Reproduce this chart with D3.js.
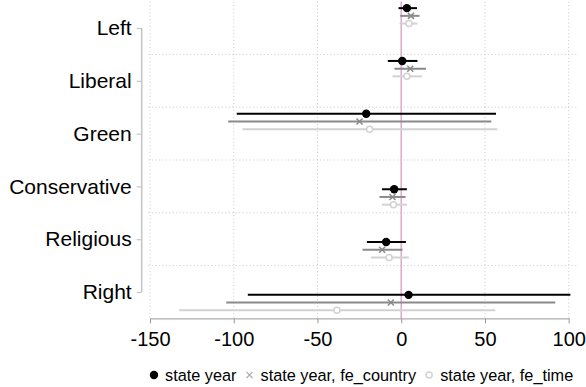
<!DOCTYPE html>
<html>
<head>
<meta charset="utf-8">
<script src="https://cdn.jsdelivr.net/npm/d3@7"></script>
<style>
  body { margin: 0; background: #fff; }
  svg { display: block; font-family: "Liberation Sans", Arial, Helvetica, sans-serif; }
</style>
</head>
<body>
<div id="chart"></div>
<script>
// categories on the y axis (top to bottom)
const categories = ["Left", "Liberal", "Green", "Conservative", "Religious", "Right"];
// where each coefficient group sits on the category axis
const coefAt = [0.77, 1.77, 2.77, 4.2, 5.2, 6.2];
const seriesNames = ["state year", "state year, fe_country", "state year, fe_time"];

// point estimates and confidence bounds, one array per model
const estYear = [3.4, 0.6, -20.9, -4.2, -9.0, 4.4];
const loYear = [-1.6, -8.0, -98.2, -11.5, -20.5, -91.6];
const hiYear = [9.4, 9.7, 56.6, 3.4, 2.8, 101];

const estCountry = [5.8, 5.4, -24.9, -5.2, -11.4, -6.2];
const loCountry = [-0.6, -4.0, -103.3, -13.0, -23.1, -104.5];
const hiCountry = [10.9, 14.8, 53.8, 2.6, 0.8, 92.0];

const estTime = [4.6, 3.4, -18.9, -4.6, -7.2, -38.4];
const loTime = [-1.0, -5.2, -94.8, -11.5, -18.1, -132.6];
const hiTime = [9.7, 12.4, 57.5, 3.4, 4.6, 56.2];

const xTicks = [-150, -100, -50, 0, 50, 100];

const width = 586, height = 387;
const colors = ["#000000", "#8a8a8a", "#d2d2d2"];
const offsets = [-0.146, 0, 0.146];

const svg = d3.select("#chart").append("svg")
    .attr("width", width)
    .attr("height", height);

const x = d3.scaleLinear().domain([-150, 100]).range([150, 568.7]);
const y = d3.scaleLinear().domain([0.5, 6.5]).range([1.6, 318.4]);

const models = [
  {name: seriesNames[0], est: estYear, lo: loYear, hi: hiYear},
  {name: seriesNames[1], est: estCountry, lo: loCountry, hi: hiCountry},
  {name: seriesNames[2], est: estTime, lo: loTime, hi: hiTime}
];

// grid
const grid = svg.append("g").attr("stroke", "#c8c8c8").attr("stroke-dasharray", "1,2.5").attr("stroke-width", 1);
grid.selectAll("line.v")
  .data(xTicks.filter(d => d !== 0))
  .join("line")
    .attr("x1", d => x(d)).attr("x2", d => x(d))
    .attr("y1", y(0.5)).attr("y2", y(6.5));
grid.selectAll("line.h")
  .data(d3.range(1.5, 6, 1))
  .join("line")
    .attr("x1", x(-151)).attr("x2", x(105))
    .attr("y1", d => y(d)).attr("y2", d => y(d));

// zero reference line
svg.append("line")
    .attr("x1", x(0)).attr("x2", x(0))
    .attr("y1", y(0.5)).attr("y2", y(6.5))
    .attr("stroke", "#e2a9c9")
    .attr("stroke-width", 1.5);

// x axis
const xAxis = svg.append("g")
    .attr("transform", `translate(0,${y(6.5)})`)
    .call(d3.axisBottom(x).tickValues(xTicks).tickFormat(d => String(d)).tickSize(5).tickPadding(8).tickSizeOuter(0));
xAxis.select(".domain").attr("stroke", "#999");
xAxis.selectAll(".tick line").attr("stroke", "#999");
xAxis.selectAll(".tick text")
    .attr("font-size", 20)
    .attr("font-family", "'Liberation Sans', Arial, sans-serif")
    .attr("fill", "#000");

// y axis with category labels
const yAxis = svg.append("g")
    .attr("transform", `translate(141.7,0)`)
    .call(d3.axisLeft(y).tickValues(d3.range(1, 7)).tickFormat(d => categories[d - 1]).tickSize(5).tickPadding(5).tickSizeOuter(0));
yAxis.select(".domain").attr("d", `M0,${y(1)}V${y(6)}`).attr("stroke", "#c4c4c4").attr("stroke-width", 1.5);
yAxis.selectAll(".tick line").attr("stroke", "#c4c4c4").attr("stroke-width", 1.2);
yAxis.selectAll(".tick text")
    .attr("font-size", 21)
    .attr("font-family", "'Liberation Sans', Arial, sans-serif")
    .attr("fill", "#000");

// error bars and markers
models.forEach((m, s) => {
  const g = svg.append("g");
  const rows = categories.map((c, i) => ({c, pos: coefAt[i] + offsets[s], est: m.est[i], lo: m.lo[i], hi: m.hi[i]}));
  g.selectAll("line")
    .data(rows)
    .join("line")
      .attr("x1", d => x(d.lo)).attr("x2", d => x(d.hi))
      .attr("y1", d => y(d.pos)).attr("y2", d => y(d.pos))
      .attr("stroke", colors[s])
      .attr("stroke-width", 2);
  drawMarker(g, rows.map(d => [x(d.est), y(d.pos)]), s);
});

function drawMarker(g, pts, s) {
  if (s === 0) {
    g.selectAll("circle.m").data(pts).join("circle").attr("class", "m")
      .attr("cx", d => d[0]).attr("cy", d => d[1]).attr("r", 4.2).attr("fill", colors[0]);
  } else if (s === 1) {
    g.selectAll("path.m").data(pts).join("path").attr("class", "m")
      .attr("d", d => `M${d[0] - 3},${d[1] - 3}L${d[0] + 3},${d[1] + 3}M${d[0] - 3},${d[1] + 3}L${d[0] + 3},${d[1] - 3}`)
      .attr("stroke", colors[1]).attr("stroke-width", 1.5).attr("fill", "none");
  } else {
    g.selectAll("circle.m").data(pts).join("circle").attr("class", "m")
      .attr("cx", d => d[0]).attr("cy", d => d[1]).attr("r", 3)
      .attr("fill", "#fff").attr("stroke", colors[2]).attr("stroke-width", 1.5);
  }
}

// legend
const legend = svg.append("g").attr("transform", "translate(0,375)");
let lx = 154;
seriesNames.forEach((name, s) => {
  const item = legend.append("g");
  drawMarker(item, [[lx, 0]], s);
  if (s === 1) item.select("path").attr("stroke", "#b0b0b0").attr("stroke-width", 1.2);
  const t = item.append("text")
      .attr("x", lx + 11)
      .attr("y", 0)
      .attr("dy", "0.35em")
      .attr("font-size", 16.3)
      .attr("fill", "#000")
      .text(name);
  lx = lx + 11 + t.node().getComputedTextLength() + 13;
});
</script>
</body>
</html>
